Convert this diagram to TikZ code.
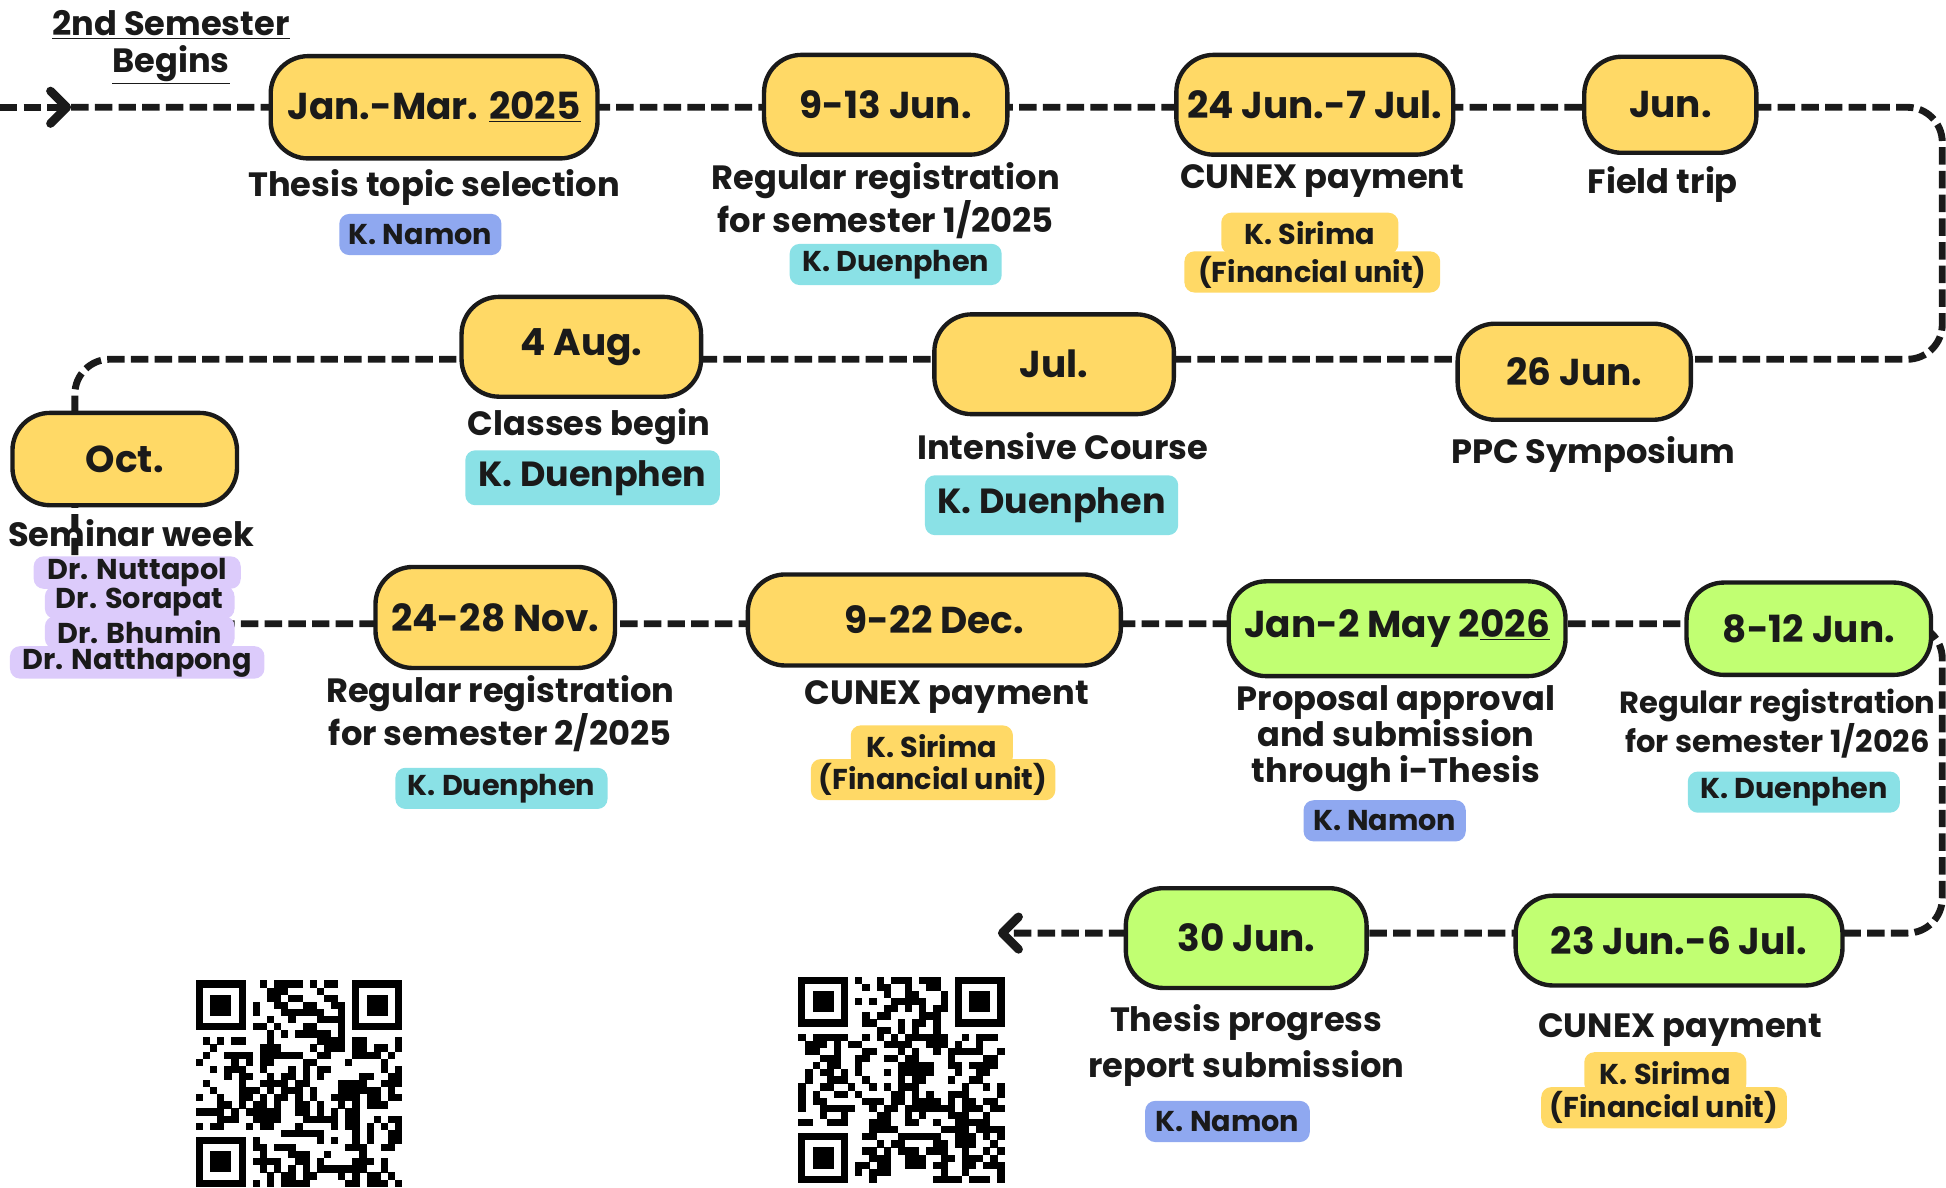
\documentclass[tikz,border=0pt]{standalone}
\usepackage{fontspec}
\setmainfont{Poppins}
\usetikzlibrary{arrows.meta,backgrounds}
\definecolor{ink}{HTML}{1A1A1A}
\definecolor{dateyellow}{HTML}{FFD966}
\definecolor{dategreen}{HTML}{C1FF72}
\definecolor{tagblue}{HTML}{8FA8F0}
\definecolor{tagcyan}{HTML}{8AE1E6}
\definecolor{tagpurple}{HTML}{DCCBFB}
\newcommand\fdate{\fontsize{30}{36}\selectfont\bfseries}
\newcommand\fcap{\fontsize{27}{34}\selectfont\bfseries}
\newcommand\fhead{\fontsize{27}{29}\selectfont\bfseries}
\newcommand\ftag{\fontsize{23}{26}\selectfont\bfseries}
\newcommand\fbigtag{\fontsize{28}{32}\selectfont\bfseries}
\tikzset{qr/.pic={
    \foreach \i in {0,...,28}{\foreach \j in {0,...,28}{
        \pgfmathtruncatemacro\qrskip{(\i<8 && \j<8) || (\i>20 && \j<8) || (\i<8 && \j>20)}
        \ifnum\qrskip=0 \pgfmathrandominteger{\qrbit}{0}{1}
        \ifnum\qrbit=1 \fill[black] (\i*5.7,\j*5.7) rectangle ++(5.8,5.8); \fi\fi}}
    \foreach \fx/\fy in {0/0,22/0,0/22}{
        \fill[black] (\fx*5.7,\fy*5.7) rectangle ++(39.9,39.9);
        \fill[white] (\fx*5.7+5.7,\fy*5.7+5.7) rectangle ++(28.5,28.5);
        \fill[black] (\fx*5.7+11.4,\fy*5.7+11.4) rectangle ++(17.1,17.1);}
}}
\begin{document}
\begin{tikzpicture}[x=1pt,y=-1pt,>={Straight Barb[length=13pt,width=26pt,line width=7pt 0 1,round]},
    timeline/.style={line width=5.5pt,draw=ink,dash pattern=on 14pt off 5pt,rounded corners=28pt},
    datebox/.style={draw=ink,line width=3.5pt,fill=dateyellow,rounded corners=30pt,
        minimum height=80pt,inner sep=0pt,font=\fdate,text=ink},
    greenbox/.style={datebox,fill=dategreen},
    eventtext/.style={font=\fcap,text=ink,align=center,inner sep=0pt},
    person/.style={rounded corners=8pt,minimum height=33pt,inner sep=0pt,font=\ftag,text=ink},
    bigperson/.style={person,font=\fbigtag}]
    \useasboundingbox (0,0) rectangle (1560,952);
    \node[eventtext,font=\fhead] (begins) at (137,38) {\underline{2nd Semester}\\\underline{Begins}};

    \node[datebox,minimum width=262pt,minimum height=82pt] (janmar) at (348,86) {Jan.-Mar. \underline{2025}};
    \node[datebox,minimum width=195pt] (jun9) at (710,84) {9-13 Jun.};
    \node[datebox,minimum width=222pt] (jun24) at (1054,84) {24 Jun.-7 Jul.};
    \node[datebox,minimum width=138pt,minimum height=77pt] (jun) at (1339,84) {Jun.};
    \node[datebox,minimum width=187pt,minimum height=77pt] (jun26) at (1262,298) {26 Jun.};
    \node[datebox,minimum width=192pt] (jul) at (845,292) {Jul.};
    \node[datebox,minimum width=192pt] (aug) at (466,278) {4 Aug.};
    \node[datebox,minimum width=180pt,minimum height=74pt] (oct) at (100,368) {Oct.};
    \node[datebox,minimum width=192pt,minimum height=81pt] (nov) at (397,495) {24-28 Nov.};
    \node[datebox,minimum width=299pt,minimum height=73pt] (dec) at (749,497) {9-22 Dec.};
    \node[greenbox,minimum width=270pt,minimum height=76pt] (may) at (1120,504) {Jan-2 May 2\underline{026}};
    \node[greenbox,minimum width=196pt,minimum height=74pt] (jun8) at (1450,504) {8-12 Jun.};
    \node[greenbox,minimum width=262pt,minimum height=72pt] (jun23) at (1346,754) {23 Jun.-6 Jul.};
    \node[greenbox,minimum width=193pt] (jun30) at (999,752) {30 Jun.};

    \node[eventtext] (janmar-t) at (348,150) {Thesis topic selection};
    \node[eventtext] (jun9-t) at (710,161) {Regular registration\\for semester 1/2025};
    \node[eventtext] (jun24-t) at (1060,145) {CUNEX payment};
    \node[eventtext] (jun-t) at (1333,148) {Field trip};
    \node[eventtext] (jun26-t) at (1277,364) {PPC Symposium};
    \node[eventtext] (jul-t) at (852,358) {Intensive Course};
    \node[eventtext] (aug-t) at (472,342) {Classes begin};
    \node[eventtext] (oct-t) at (105,427) {Seminar week};
    \node[eventtext] (nov-t) at (401,572) {Regular registration\\for semester 2/2025};
    \node[eventtext] (dec-t) at (759,559) {CUNEX payment};
    \node[eventtext,font=\fontsize{27}{29}\selectfont\bfseries] (may-t) at (1119,592) {Proposal approval\\and submission\\through i-Thesis};
    \node[eventtext,font=\fontsize{24.5}{31}\selectfont\bfseries] (jun8-t) at (1425,580) {Regular registration\\for semester 1/2026};
    \node[eventtext] (jun23-t) at (1347,826) {CUNEX payment};
    \node[eventtext,font=\fontsize{27}{37}\selectfont\bfseries] (jun30-t) at (999,838) {Thesis progress\\report submission};

    \node[person,fill=tagblue,minimum width=130pt] (janmar-p) at (337,188) {K. Namon};
    \node[person,fill=tagcyan,minimum width=170pt] (jun9-p) at (718,212) {K. Duenphen};
    \node[person,fill=dateyellow,minimum width=142pt] (jun24-p) at (1050,187) {K. Sirima};
    \node[person,fill=dateyellow,minimum width=205pt] (jun24-q) at (1052,218) {(Financial unit)};
    \node[bigperson,fill=tagcyan,minimum width=203pt,minimum height=48pt] (jul-p) at (843,405) {K. Duenphen};
    \node[bigperson,fill=tagcyan,minimum width=204pt,minimum height=44pt] (aug-p) at (475,383) {K. Duenphen};
    \node[person,fill=tagpurple,minimum width=166pt,minimum height=26pt] (oct-p) at (110,459) {Dr. Nuttapol};
    \node[person,fill=tagpurple,minimum width=152pt,minimum height=26pt] (oct-q) at (112,483) {Dr. Sorapat};
    \node[person,fill=tagpurple,minimum width=152pt,minimum height=26pt] (oct-r) at (112,507) {Dr. Bhumin};
    \node[person,fill=tagpurple,minimum width=204pt,minimum height=26pt] (oct-s) at (110,531) {Dr. Natthapong};
    \node[person,fill=tagcyan,minimum width=170pt] (nov-p) at (402,632) {K. Duenphen};
    \node[person,fill=dateyellow,minimum width=130pt] (dec-p) at (747,598) {K. Sirima};
    \node[person,fill=dateyellow,minimum width=196pt] (dec-q) at (748,625) {(Financial unit)};
    \node[person,fill=tagblue,minimum width=130pt] (may-p) at (1110,658) {K. Namon};
    \node[person,fill=tagcyan,minimum width=170pt] (jun8-p) at (1438,635) {K. Duenphen};
    \node[person,fill=dateyellow,minimum width=130pt] (jun23-p) at (1335,860) {K. Sirima};
    \node[person,fill=dateyellow,minimum width=197pt] (jun23-q) at (1334,888) {(Financial unit)};
    \node[person,fill=tagblue,minimum width=132pt] (jun30-p) at (984,899) {K. Namon};

    \coordinate (start) at (0,86);
    \coordinate (starttip) at (57,86);
    \coordinate (finish) at (800,748);
    \coordinate (rowA) at (0,86);
    \coordinate (rowB) at (0,288);
    \coordinate (rowC) at (0,500);
    \coordinate (rowD) at (0,748);
    \coordinate (leftturn) at (60,0);
    \coordinate (rightturn) at (1557,0);
    \begin{scope}[on background layer]
        \draw[timeline,->] (start) -- (starttip);
        \draw[timeline,->] (starttip) -- (janmar |- rowA) -- (jun9 |- rowA) -- (jun24 |- rowA)
            -- (jun |- rowA) -- (rightturn |- rowA) -- (rightturn |- rowB) -- (jun26 |- rowB)
            -- (jul |- rowB) -- (aug |- rowB) -- (leftturn |- rowB) -- (leftturn |- oct)
            -- (leftturn |- rowC) -- (nov |- rowC) -- (dec |- rowC) -- (may |- rowC)
            -- (jun8 |- rowC) -- (rightturn |- rowC) -- (rightturn |- rowD)
            -- (jun23 |- rowD) -- (jun30 |- rowD) -- (finish);
    \end{scope}

    \pgfmathsetseed{4242}
    \pic at (157,786) {qr};
    \pgfmathsetseed{977}
    \pic at (640,783) {qr};
\end{tikzpicture}
\end{document}
